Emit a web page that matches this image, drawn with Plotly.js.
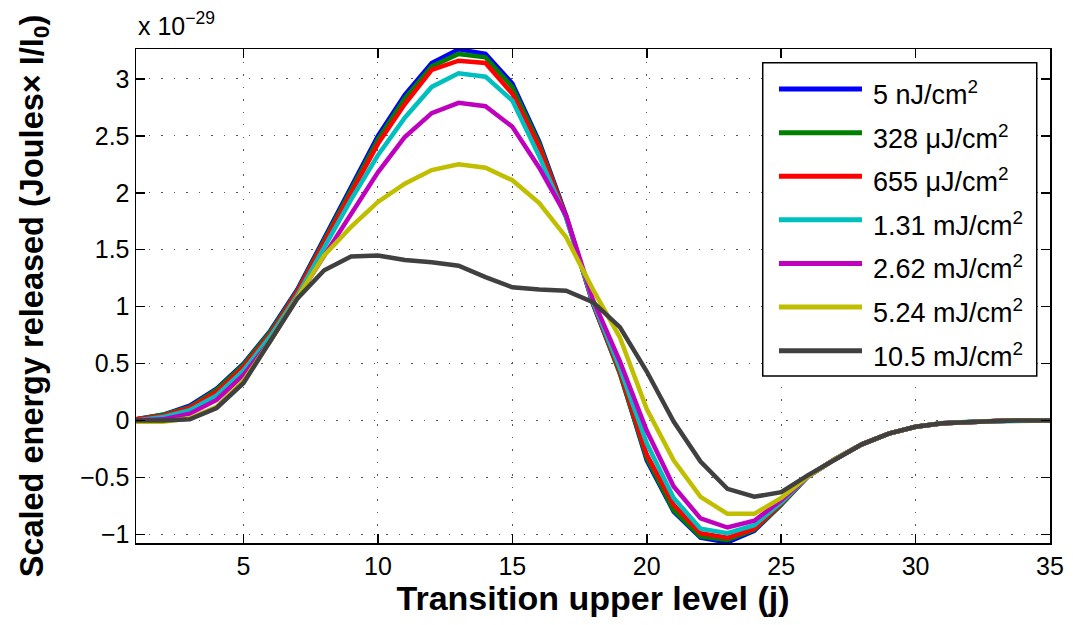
<!DOCTYPE html>
<html>
<head>
<meta charset="utf-8">
<script src="https://cdn.plot.ly/plotly-3.0.1.min.js"></script>
<style>html,body{margin:0;padding:0;background:#fff;}#chart{width:1073px;height:625px;}</style>
</head>
<body>
<div id="chart"></div>
<script>
// Transition upper level j
const levels = [1,2,3,4,5,6,7,8,9,10,11,12,13,14,15,16,17,18,19,20,21,22,23,24,25,26,27,28,29,30,31,32,33,34,35];

// Scaled energy released (x 1e-29)
const s5nJ   = [0.01,0.05,0.13,0.28,0.50,0.79,1.15,1.60,2.06,2.50,2.86,3.14,3.26,3.22,2.96,2.45,1.80,1.02,0.42,-0.35,-0.80,-1.03,-1.07,-0.97,-0.74,-0.49,-0.34,-0.21,-0.115,-0.055,-0.025,-0.01,-0.004,0,0];
const s328uJ = [0.01,0.05,0.12,0.27,0.49,0.78,1.14,1.58,2.03,2.47,2.83,3.11,3.22,3.19,2.93,2.43,1.79,1.03,0.41,-0.33,-0.79,-1.02,-1.05,-0.96,-0.74,-0.49,-0.34,-0.21,-0.115,-0.055,-0.025,-0.01,-0.004,0,0];
const s655uJ = [0.01,0.04,0.11,0.25,0.47,0.76,1.13,1.56,2.00,2.43,2.78,3.08,3.16,3.14,2.87,2.40,1.79,1.03,0.43,-0.30,-0.74,-0.99,-1.03,-0.95,-0.73,-0.49,-0.34,-0.21,-0.115,-0.055,-0.025,-0.01,-0.004,0,0];
const s131mJ = [0.00,0.03,0.09,0.22,0.44,0.74,1.10,1.52,1.94,2.33,2.66,2.93,3.05,3.02,2.81,2.32,1.78,1.04,0.46,-0.20,-0.68,-0.95,-0.99,-0.92,-0.72,-0.49,-0.34,-0.21,-0.115,-0.055,-0.025,-0.01,-0.004,0,0];
const s262mJ = [0.00,0.01,0.06,0.18,0.40,0.70,1.08,1.45,1.82,2.18,2.49,2.70,2.79,2.76,2.58,2.22,1.80,1.06,0.52,-0.09,-0.58,-0.86,-0.94,-0.88,-0.70,-0.49,-0.34,-0.21,-0.115,-0.055,-0.025,-0.01,-0.004,0,0];
const s524mJ = [-0.01,-0.01,0.02,0.12,0.35,0.70,1.08,1.45,1.70,1.92,2.08,2.20,2.25,2.22,2.11,1.91,1.61,1.15,0.73,0.10,-0.35,-0.67,-0.82,-0.82,-0.68,-0.49,-0.34,-0.21,-0.115,-0.055,-0.025,-0.01,-0.004,0,0];
const s105mJ = [0.00,0.00,0.01,0.11,0.33,0.70,1.07,1.32,1.44,1.45,1.41,1.39,1.36,1.26,1.17,1.15,1.14,1.04,0.82,0.43,-0.01,-0.36,-0.60,-0.67,-0.63,-0.48,-0.34,-0.21,-0.115,-0.055,-0.025,-0.01,-0.004,0,0];

const seriesNames = ["5 nJ/cm<sup>2</sup>","328 μJ/cm<sup>2</sup>","655 μJ/cm<sup>2</sup>","1.31 mJ/cm<sup>2</sup>","2.62 mJ/cm<sup>2</sup>","5.24 mJ/cm<sup>2</sup>","10.5 mJ/cm<sup>2</sup>"];
const seriesValues = [s5nJ, s328uJ, s655uJ, s131mJ, s262mJ, s524mJ, s105mJ];
const seriesColors = ["#0000ff","#008000","#ff0000","#00bfbf","#bf00bf","#bfbf00","#404040"];

const xTicks = [5,10,15,20,25,30,35];
const yTicks = [-1,-0.5,0,0.5,1,1.5,2,2.5,3];

const FONT = "Liberation Sans, Arial, Helvetica, sans-serif";

const traces = seriesValues.map((v,i)=>({
  x: levels, y: v, type: "scatter", mode: "lines", name: seriesNames[i],
  line: {color: seriesColors[i], width: 4.5}, showlegend: false
}));

// custom legend (MATLAB-style long line samples)
const shapes = [];
const annotations = [];
const lgX0 = 0.6857, lgX1 = 0.9855, lgY0 = 0.338, lgY1 = 0.9723;
shapes.push({type:"rect", xref:"paper", yref:"paper", x0:lgX0, x1:lgX1, y0:lgY0, y1:lgY1,
  line:{color:"#000", width:1.5}, fillcolor:"#fff", layer:"above"});
seriesNames.forEach((n,i)=>{
  const yy = 0.919 - i*0.0883;
  shapes.push({type:"line", xref:"paper", yref:"paper", x0:0.7035, x1:0.7943, y0:yy, y1:yy,
    line:{color:seriesColors[i], width:5}, layer:"above"});
  annotations.push({xref:"paper", yref:"paper", x:0.8042, y:yy, xanchor:"left", yanchor:"middle", yshift:-4,
    text:n, showarrow:false, font:{family:FONT, size:27, color:"#000"}});
});
annotations.push({xref:"paper", yref:"paper", x:0.0, y:1.0, xanchor:"left", yanchor:"bottom", yshift:7,
  text:"x 10<sup>−29</sup>", showarrow:false, font:{family:FONT, size:25, color:"#000"}});

const layout = {
  width:1073, height:625,
  margin:{l:136, r:23, t:49, b:82},
  paper_bgcolor:"#fff", plot_bgcolor:"#fff",
  font:{family:FONT, color:"#000"},
  showlegend:false,
  xaxis:{
    range:[1,35], tickvals:xTicks, ticktext:xTicks.map(String),
    showline:true, linecolor:"#000", linewidth:1.5, mirror:"ticks",
    ticks:"inside", ticklen:9, tickwidth:1.5, tickcolor:"#000",
    showgrid:true, gridcolor:"#555", gridwidth:1, griddash:"1.5px,11px",
    zeroline:false, tickfont:{family:FONT, size:25, color:"#000"},
    title:{text:"<b>Transition upper level (j)</b>", font:{family:FONT, size:34, color:"#000"}, standoff:4},
    automargin:false
  },
  yaxis:{
    range:[-1.076,3.263], tickvals:yTicks, ticktext:yTicks.map(v=>v<0?("−"+Math.abs(v)):String(v)),
    showline:true, linecolor:"#000", linewidth:1.5, mirror:"ticks",
    ticks:"inside", ticklen:9, tickwidth:1.5, tickcolor:"#000",
    showgrid:true, gridcolor:"#555", gridwidth:1, griddash:"1.5px,11px",
    zeroline:false, tickfont:{family:FONT, size:25, color:"#000"},
    title:{text:"<b>Scaled energy released (Joules× I/I<sub>0</sub>)</b>", font:{family:FONT, size:32.5, color:"#000"}, standoff:27},
    automargin:false
  },
  shapes: shapes,
  annotations: annotations
};

Plotly.newPlot("chart", traces, layout, {displayModeBar:false, staticPlot:true});
</script>
</body>
</html>
